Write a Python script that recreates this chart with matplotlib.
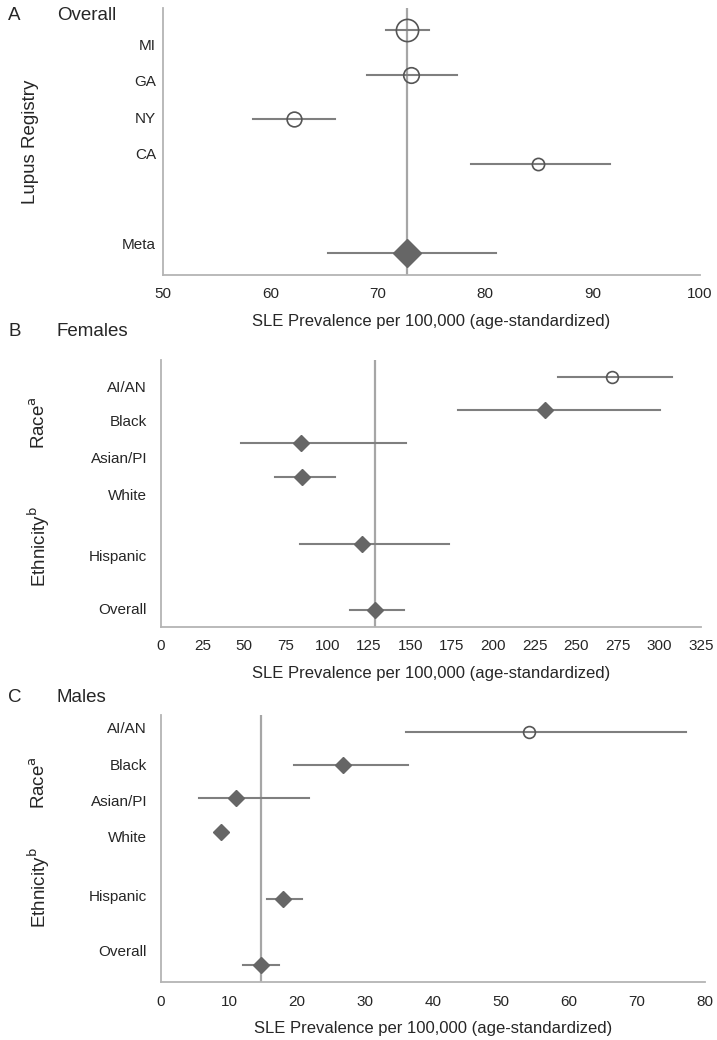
import matplotlib.pyplot as plt

plt.rcParams['font.family'] = ['Liberation Sans', 'DejaVu Sans']

# Panel A: overall prevalence by lupus registry
a_labels = ["MI", "GA", "NY", "CA", "Meta"]
a_est = [72.75, 73.05, 62.2, 84.9, 72.75]
a_lo = [70.8, 69.0, 58.4, 78.7, 65.4]
a_hi = [74.8, 77.4, 66.0, 91.6, 81.0]
a_meta = 72.75

# Panel B: females
b_labels = ["AI/AN", "Black", "Asian/PI", "White", "Hispanic", "Overall"]
b_est = [271.7, 231.1, 84.2, 84.8, 120.7, 128.9]
b_lo = [238.8, 178.6, 48.3, 68.5, 83.9, 113.7]
b_hi = [307.3, 300.1, 147.7, 104.6, 173.4, 146.0]
b_overall = 128.9

# Panel C: males
c_labels = ["AI/AN", "Black", "Asian/PI", "White", "Hispanic", "Overall"]
c_est = [54.15, 26.7, 11.1, 8.85, 18.0, 14.65]
c_lo = [36.1, 19.6, 5.6, 8.85, 15.6, 12.1]
c_hi = [77.2, 36.3, 21.8, 8.85, 20.7, 17.4]
c_overall = 14.65

# layout (row positions, label positions, marker styles)
a_rows = [0, 1, 2, 3, 5]
a_label_rows = [0.31, 1.14, 1.96, 2.77, 4.8]
a_marks = ['o', 'o', 'o', 'o', 'D']
a_sizes = [16, 11.2, 10.6, 8.8, 14.5]

grp_rows = [0, 1, 2, 3, 5, 7]
b_label_rows = [0.28, 1.32, 2.42, 3.52, 5.36, 6.95]
c_label_rows = [-0.12, 0.97, 2.05, 3.15, 4.91, 6.57]
grp_marks = ['o', 'D', 'D', 'D', 'D', 'D']
grp_sizes = [8.5, 8, 8, 8, 8, 8]

W, H = 717, 1040
fig = plt.figure(figsize=(W / 100, H / 100), dpi=100)

bar_col = '#7f7f7f'
mark_col = '#666666'
ref_col = '#a6a6a6'
spine_col = '#b4b4b4'
txt_col = '#262626'


def px_axes(left, right, top, bottom):
    return fig.add_axes([left / W, 1 - bottom / H, (right - left) / W, (bottom - top) / H])


def forest(ax, est, lo, hi, rows, marks, sizes, ref, labels, label_rows, xlim, xticks, pad):
    ax.axvline(ref, color=ref_col, lw=1.6, zorder=1)
    for e, l, h, r, m, s in zip(est, lo, hi, rows, marks, sizes):
        ax.plot([l, h], [r, r], color=bar_col, lw=1.5, zorder=2)
        if m == 'o':
            ax.plot(e, r, marker='o', ms=s, mfc='none', mec='#555555', mew=1.2, zorder=3)
        else:
            ax.plot(e, r, marker='D', ms=s, mfc=mark_col, mec=mark_col, zorder=3)
    ax.set_xlim(*xlim)
    ax.set_ylim(7.5 if len(rows) > 5 else 5.5, -0.5)
    ax.set_xticks(xticks)
    ax.set_yticks(label_rows)
    ax.set_yticklabels(labels)
    ax.tick_params(axis='both', length=0, labelsize=11, colors=txt_col)
    ax.tick_params(axis='y', pad=pad)
    ax.tick_params(axis='x', pad=9)
    for s in ['top', 'right']:
        ax.spines[s].set_visible(False)
    for s in ['left', 'bottom']:
        ax.spines[s].set_color(spine_col)
        ax.spines[s].set_linewidth(1.3)
    ax.set_xlabel("SLE Prevalence per 100,000 (age-standardized)", fontsize=12,
                  color=txt_col, labelpad=9)


axA = px_axes(163, 700, 8, 275)
forest(axA, a_est, a_lo, a_hi, a_rows, a_marks, a_sizes, a_meta, a_labels,
       a_label_rows, (50, 100), range(50, 101, 10), 5)
axA.set_ylabel("Lupus Registry", fontsize=13.5, color=txt_col)
axA.yaxis.set_label_coords((39 - 163) / (700 - 163), 0.5)

axB = px_axes(161, 701, 360, 627)
forest(axB, b_est, b_lo, b_hi, grp_rows, grp_marks, grp_sizes, b_overall, b_labels,
       b_label_rows, (0, 325), range(0, 326, 25), 10)

axC = px_axes(161, 705, 715, 982)
forest(axC, c_est, c_lo, c_hi, grp_rows, grp_marks, grp_sizes, c_overall, c_labels,
       c_label_rows, (0, 80), range(0, 81, 10), 10)

# panel letters and titles
for letter, title, y in [("A", "Overall", 16), ("B", "Females", 332), ("C", "Males", 697)]:
    fig.text(8 / W, 1 - y / H, letter, fontsize=13.5, va='center', ha='left', color=txt_col)
    fig.text(57 / W, 1 - y / H, title, fontsize=13.5, va='center', ha='left', color=txt_col)

# group labels for panels B and C
for yr, ye in [(423, 547), (783, 888)]:
    fig.text(39 / W, 1 - yr / H, "Race$^{\\mathrm{a}}$", rotation=90, fontsize=13.5,
             va='center', ha='center', color=txt_col)
    fig.text(39 / W, 1 - ye / H, "Ethnicity$^{\\mathrm{b}}$", rotation=90, fontsize=13.5,
             va='center', ha='center', color=txt_col)

fig.savefig("out.png", dpi=100)
